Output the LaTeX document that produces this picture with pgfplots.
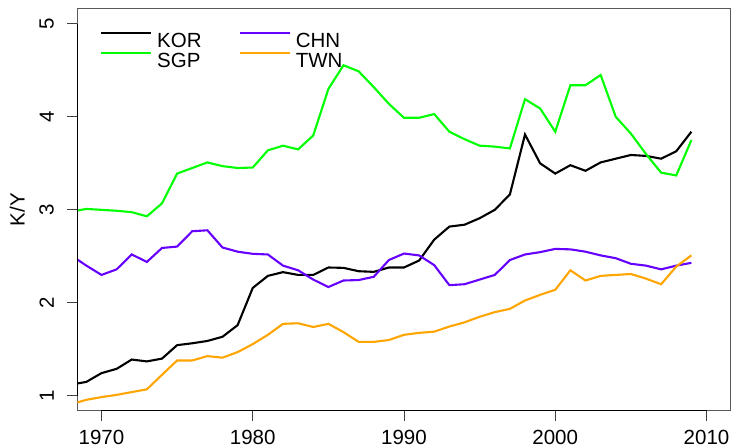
\documentclass[border=0pt]{standalone}
\usepackage{pgfplots}
\pgfplotsset{compat=1.18}
\usepackage{pgfplotstable}
\usepackage{fontspec}
\setmainfont{Liberation Sans}
\usetikzlibrary{calc}
\definecolor{kor}{RGB}{0,0,0}
\definecolor{sgp}{RGB}{0,255,0}
\definecolor{chn}{RGB}{102,0,255}
\definecolor{twn}{RGB}{255,165,0}
\newcommand{\ff}{\fontsize{20.5}{24}\selectfont}

\pgfplotstableread{
year KOR SGP CHN TWN
1968 1.12 2.98 2.51 0.91
1969 1.15 3.01 2.40 0.957
1970 1.244 3.00 2.30 0.986
1971 1.29 2.99 2.36 1.01
1972 1.39 2.975 2.52 1.04
1973 1.37 2.93 2.44 1.07
1974 1.40 3.07 2.59 1.226
1975 1.545 3.39 2.605 1.38
1976 1.565 3.45 2.77 1.38
1977 1.59 3.51 2.78 1.427
1978 1.635 3.47 2.595 1.41
1979 1.76 3.45 2.55 1.47
1980 2.16 3.455 2.527 1.556
1981 2.29 3.64 2.52 1.656
1982 2.33 3.69 2.40 1.774
1983 2.30 3.65 2.35 1.78
1984 2.30 3.80 2.25 1.74
1985 2.38 4.30 2.17 1.774
1986 2.376 4.555 2.24 1.685
1987 2.34 4.49 2.245 1.58
1988 2.333 4.32 2.28 1.58
1989 2.38 4.14 2.46 1.60
1990 2.38 3.99 2.53 1.656
1991 2.455 3.99 2.51 1.677
1992 2.68 4.03 2.405 1.69
1993 2.82 3.84 2.19 1.745
1994 2.84 3.76 2.20 1.79
1995 2.91 3.69 2.25 1.85
1996 3.00 3.68 2.30 1.90
1997 3.165 3.66 2.46 1.935
1998 3.81 4.19 2.52 2.025
1999 3.50 4.09 2.545 2.086
2000 3.39 3.84 2.58 2.14
2001 3.48 4.34 2.575 2.35
2002 3.42 4.34 2.55 2.24
2003 3.51 4.45 2.51 2.29
2004 3.55 4.00 2.48 2.30
2005 3.59 3.82 2.42 2.31
2006 3.58 3.60 2.40 2.26
2007 3.55 3.40 2.36 2.20
2008 3.63 3.37 2.40 2.39
2009 3.84 3.75 2.43 2.51
}\data

\begin{document}
\begin{tikzpicture}
\begin{axis}[name=ax, scale only axis, width=653.4pt, height=401.7pt,
  xmin=1968.4, xmax=2011.6, ymin=0.84, ymax=5.16,
  xtick={1970,1980,1990,2000,2010}, ytick={1,2,3,4,5},
  /pgf/number format/assume math mode=true,
  /pgf/number format/set thousands separator={},
  axis line style={draw=black!65, line width=1pt},
  tick style={draw=black!75, line width=0.9pt},
  major tick length=10pt, tick align=outside,
  xtick pos=bottom, ytick pos=left,
  tick label style={font=\ff},
  xticklabel style={anchor=north, inner sep=0pt, yshift=-9pt},
  yticklabel style={xshift=-13.3pt, rotate=90, anchor=south, inner sep=0pt},
  ylabel={K/Y},
  every axis y label/.style={at={(axis description cs:-0.080,0.5)}, rotate=90, anchor=south, inner sep=0pt, font=\ff},
  legend style={draw=none, fill=none, inner sep=0pt, outer sep=0pt,
    at={(axis description cs:0.0345,0.9435)}, anchor=north west, font=\ff,
    nodes={inner sep=0pt, text height=14.7pt, text depth=0pt}, row sep=4.6pt},
  legend columns=2, transpose legend,
  legend cell align=left,
  legend image code/.code={\path[draw=none, fill=none] (0pt,0pt) rectangle (50pt,7.35pt); \draw[#1] (0pt,7.35pt) -- (50pt,7.35pt);},
  /tikz/every odd column/.append style={column sep=5.2pt},
  /tikz/every even column/.append style={column sep=37pt},
]
\addplot[kor, line width=2.1pt] table[x=year, y=KOR] {\data};
\addlegendentry{KOR}
\addplot[sgp, line width=2.1pt] table[x=year, y=SGP] {\data};
\addlegendentry{SGP}
\addplot[chn, line width=2.1pt] table[x=year, y=CHN] {\data};
\addlegendentry{CHN}
\addplot[twn, line width=2.1pt] table[x=year, y=TWN] {\data};
\addlegendentry{TWN}
\end{axis}
\begin{axis}[scale only axis, width=653.4pt, height=401.7pt,
  xmin=1968.4, xmax=2011.6, ymin=0.84, ymax=5.16, hide axis, clip=false]
\draw[black, line width=1pt] (axis cs:1970,0.84) -- (axis cs:2010,0.84);
\draw[black, line width=1pt] (axis cs:1968.4,1) -- (axis cs:1968.4,5);
\end{axis}
\pgfresetboundingbox
\useasboundingbox ($(ax.south west)+(-77.3pt,-37.3pt)$) rectangle ($(ax.north east)+(1.3pt,9pt)$);
\end{tikzpicture}
\end{document}
